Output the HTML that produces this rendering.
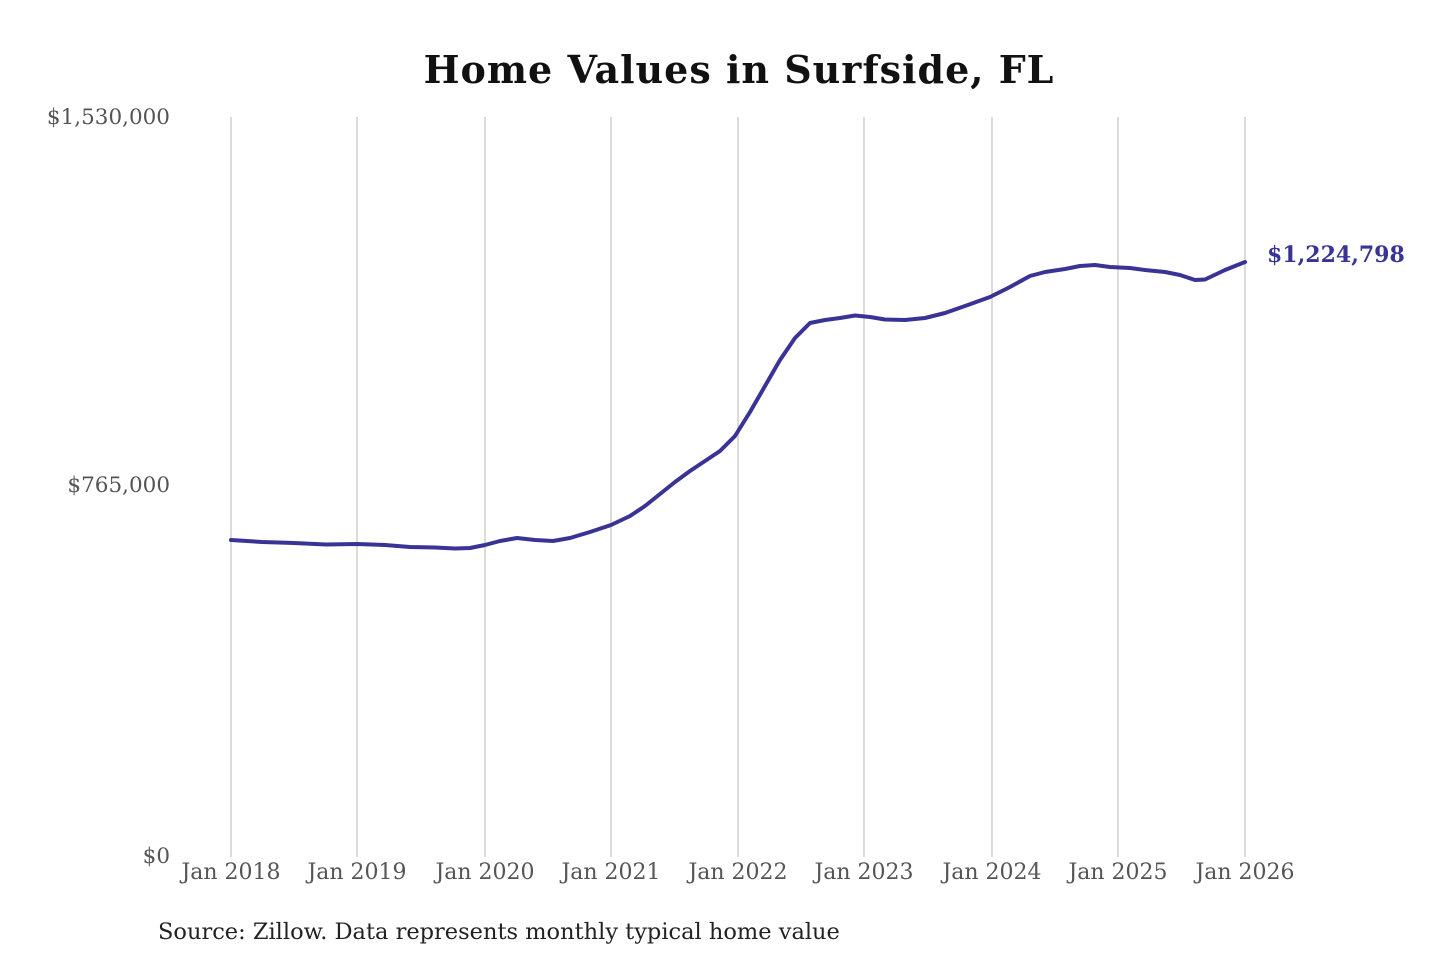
<!DOCTYPE html>
<html><head><meta charset="utf-8"><style>
html,body{margin:0;padding:0;background:#fff;}
svg{display:block;}
</style></head><body>
<svg width="1440" height="960" viewBox="0 0 1440 960" xmlns="http://www.w3.org/2000/svg">
<text x="739" y="83" text-anchor="middle" font-family="DejaVu Serif, Liberation Serif, serif" font-weight="bold" font-size="38" letter-spacing="1" fill="#111">Home Values in Surfside, FL</text>
<g stroke="#c8c8c8" stroke-width="1.3">
<line x1="231" y1="117" x2="231" y2="857"/>
<line x1="357" y1="117" x2="357" y2="857"/>
<line x1="485" y1="117" x2="485" y2="857"/>
<line x1="611" y1="117" x2="611" y2="857"/>
<line x1="738" y1="117" x2="738" y2="857"/>
<line x1="864" y1="117" x2="864" y2="857"/>
<line x1="992" y1="117" x2="992" y2="857"/>
<line x1="1118" y1="117" x2="1118" y2="857"/>
<line x1="1245" y1="117" x2="1245" y2="857"/>
</g>
<g font-family="DejaVu Serif, Liberation Serif, serif" font-size="21.5" fill="#555">
<text x="170" y="124" text-anchor="end">$1,530,000</text>
<text x="170" y="492" text-anchor="end">$765,000</text>
<text x="170" y="863" text-anchor="end">$0</text>
</g>
<g font-family="DejaVu Serif, Liberation Serif, serif" font-size="22" fill="#555" text-anchor="middle">
<text x="231" y="879">Jan 2018</text>
<text x="357" y="879">Jan 2019</text>
<text x="485" y="879">Jan 2020</text>
<text x="611" y="879">Jan 2021</text>
<text x="738" y="879">Jan 2022</text>
<text x="864" y="879">Jan 2023</text>
<text x="992" y="879">Jan 2024</text>
<text x="1118" y="879">Jan 2025</text>
<text x="1245" y="879">Jan 2026</text>
</g>
<polyline fill="none" stroke="#3a3396" stroke-width="4" stroke-linejoin="round" stroke-linecap="round"
points="231,540 262,542 294,543 326,544.5 357,544 385,545 410,547 435,547.5 455,548.5 470,548 485,545 500,541 517,538 535,540 553,541 570,538 590,532 611,525 630,516 645,506 660,494 675,482 690,471 705,461 720,451 735,436 750,412 765,386 780,360 795,338 810,323 825,320 840,318 855,315.5 870,317 885,319.5 905,320 925,318 945,313 965,306 990,297 1010,287 1030,276 1045,272 1065,269 1080,266 1095,265 1110,267 1130,268 1145,270 1165,272 1180,275 1195,280 1205,279.5 1225,270 1245,262"/>
<text x="1267" y="262" font-family="DejaVu Serif, Liberation Serif, serif" font-weight="bold" font-size="22" fill="#3a3396">$1,224,798</text>
<text x="158" y="939" font-family="DejaVu Serif, Liberation Serif, serif" font-size="22.5" fill="#222">Source: Zillow. Data represents monthly typical home value</text>
</svg>
</body></html>
